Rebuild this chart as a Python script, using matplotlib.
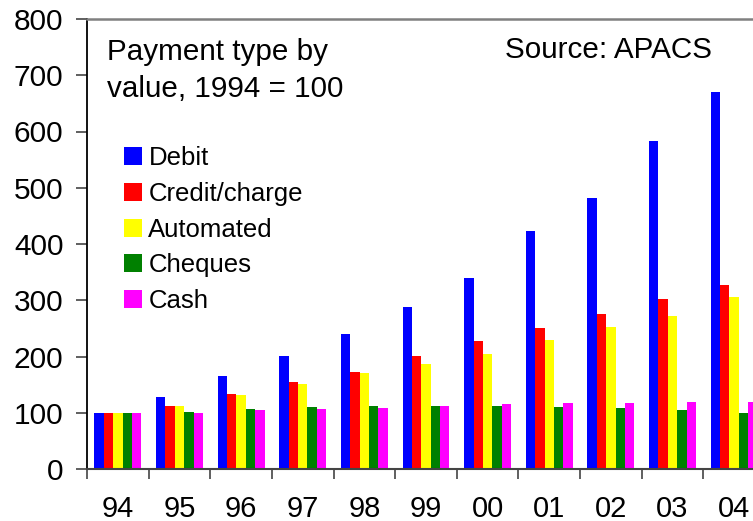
import numpy as np
import matplotlib
matplotlib.use('Agg')
import matplotlib.pyplot as plt
import matplotlib.patches as mpatches

plt.rcParams['font.family'] = ['Liberation Sans', 'DejaVu Sans']

# data (index, 1994 = 100)
years = ['94', '95', '96', '97', '98', '99', '00', '01', '02', '03', '04']
debit = [100, 128, 165, 201, 240, 288, 340, 423, 482, 583, 670]
credit = [100, 112, 133, 155, 172, 201, 228, 251, 276, 302, 327]
automated = [100, 112, 131, 152, 171, 187, 204, 229, 252, 272, 306]
cheques = [100, 101, 107, 110, 112, 112, 112, 110, 108, 105, 100]
cash = [100, 100, 105, 107, 108, 112, 116, 117, 117, 119, 119]

series = [
    ('Debit', debit, '#0000ff'),
    ('Credit/charge', credit, '#ff0000'),
    ('Automated', automated, '#ffff00'),
    ('Cheques', cheques, '#008000'),
    ('Cash', cash, '#ff00ff'),
]

fig = plt.figure(figsize=(7.53, 5.21), dpi=100)
fig.patch.set_facecolor('white')
# axes runs past the right edge, as in the reference
ax = fig.add_axes([87 / 753, 52 / 521, 678 / 753, 450 / 521])

x = np.arange(len(years))
width = 0.152
for i, (name, vals, col) in enumerate(series):
    ax.bar(x + (i - 2) * width, vals, width, color=col, label=name, linewidth=0)

ax.set_xlim(-0.5, len(years) - 0.5)
ax.set_ylim(0, 800)
ax.set_yticks(range(0, 801, 100))

# ticks at group boundaries, labels at group centres
ax.set_xticks(np.arange(-0.5, len(years), 1.0))
ax.set_xticklabels([])
ax.set_xticks(x, minor=True)
ax.set_xticklabels(years, minor=True)
ax.tick_params(axis='x', which='major', direction='out', length=7, width=1.2, color='#444444')
ax.tick_params(axis='x', which='minor', length=0, pad=19, labelsize=21)
ax.tick_params(axis='y', direction='out', length=8, width=1.2, color='#444444', pad=9, labelsize=21.5)

ax.spines['right'].set_visible(False)
ax.spines['left'].set_color('black')
ax.spines['left'].set_linewidth(1.3)
ax.spines['bottom'].set_color('#444444')
ax.spines['bottom'].set_linewidth(1.5)
ax.spines['top'].set_color('#808080')
ax.spines['top'].set_linewidth(1.8)

fig.text(107 / 753, 1 - 60 / 521, 'Payment type by', fontsize=21.3,
         ha='left', va='baseline')
fig.text(107 / 753, 1 - 97 / 521, 'value, 1994 = 100', fontsize=21.3,
         ha='left', va='baseline')
fig.text(505 / 753, 1 - 58 / 521, 'Source: APACS', fontsize=21.3,
         ha='left', va='baseline')

handles = [mpatches.Patch(facecolor=c, edgecolor='none', label=n) for n, _, c in series]
ax.legend(handles=handles, loc='upper left', bbox_to_anchor=(124 / 753, 1 - 146 / 521),
          bbox_transform=fig.transFigure, frameon=False, fontsize=18.5,
          handlelength=0.7, handleheight=0.7, handletextpad=0.25,
          labelspacing=0.46, borderpad=0, borderaxespad=0)

fig.savefig('out.png', dpi=100, facecolor='white')
